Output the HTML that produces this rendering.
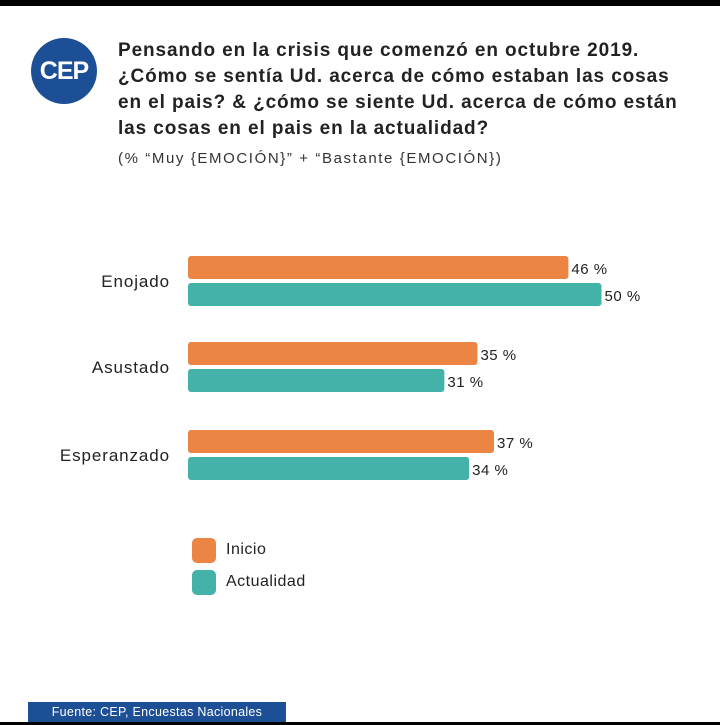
<!DOCTYPE html>
<html><head><meta charset="utf-8"><style>
body{margin:0;width:720px;height:725px;background:#fff;font-family:"Liberation Sans",sans-serif;position:relative;overflow:hidden}
.a{position:absolute}
</style></head><body>
<div class="a" style="left:0;top:0;width:720px;height:6px;background:#000"></div>
<div class="a" style="left:0;top:722px;width:720px;height:3px;background:#000"></div>
<div class="a" style="left:31px;top:38px;width:66px;height:66px;border-radius:50%;background:#1d4f96;color:#fff;font-weight:bold;font-size:25px;line-height:66px;text-align:center;letter-spacing:-1px">CEP</div>
<div class="a" style="left:118px;top:38px;width:600px;font-weight:bold;font-size:19px;line-height:26px;letter-spacing:0.9px;color:#222;white-space:nowrap">Pensando en la crisis que comenzó en octubre 2019.<br>¿Cómo se sentía Ud. acerca de cómo estaban las cosas<br>en el pais? &amp; ¿cómo se siente Ud. acerca de cómo están<br>las cosas en el pais en la actualidad?</div>
<div class="a" style="left:118px;top:150px;font-size:15px;letter-spacing:1.6px;color:#333;white-space:nowrap">(% “Muy {EMOCIÓN}” + “Bastante {EMOCIÓN})</div>
<svg class="a" style="left:0;top:0" width="720" height="725" id="chart"></svg>
<div class="a" style="left:192px;top:538px;width:24px;height:25px;border-radius:5px;background:#ec8443"></div>
<div class="a" style="left:226px;top:541px;font-size:16px;letter-spacing:0.5px;color:#222">Inicio</div>
<div class="a" style="left:192px;top:570px;width:24px;height:25px;border-radius:5px;background:#45b2aa"></div>
<div class="a" style="left:226px;top:573px;font-size:16px;letter-spacing:0.5px;color:#222">Actualidad</div>
<div class="a" style="left:28px;top:702px;width:258px;height:20px;background:#1d4f96;color:#fff;font-size:12.5px;letter-spacing:0.3px;line-height:20px;text-align:center;white-space:nowrap">Fuente: CEP, Encuestas Nacionales</div>
<script>
const categories=["Enojado","Asustado","Esperanzado"];
const inicio=[46,35,37];
const actualidad=[50,31,34];
const svg=document.getElementById('chart');
const NS='http://www.w3.org/2000/svg';
const x0=188,scale=8.27;
const groupTop=[256,342,430];
function xv(v){return v*scale;}
function mk(t,a){const e=document.createElementNS(NS,t);for(const k in a)e.setAttribute(k,a[k]);svg.appendChild(e);return e;}
categories.forEach((c,i)=>{
  const y=groupTop[i];
  const l=mk('text',{x:170,y:y+31,'text-anchor':'end','font-size':17,'letter-spacing':0.9,fill:'#222','font-family':'Liberation Sans, sans-serif'});
  l.textContent=c;
  
  
  [[inicio,'#ec8443',0],[actualidad,'#45b2aa',27]].forEach(([s,col,off],j)=>{
    const r=mk('rect',{x:x0,y:y+off,width:xv(s[i]),height:23,rx:3,fill:col});
    
    
    const t=mk('text',{x:x0+xv(s[i])+3,y:y+off+18,'font-size':15,'letter-spacing':0.5,fill:'#222','font-family':'Liberation Sans, sans-serif'});
    t.textContent=s[i]+' %';
    
    
  });
});
</script>
</body></html>
